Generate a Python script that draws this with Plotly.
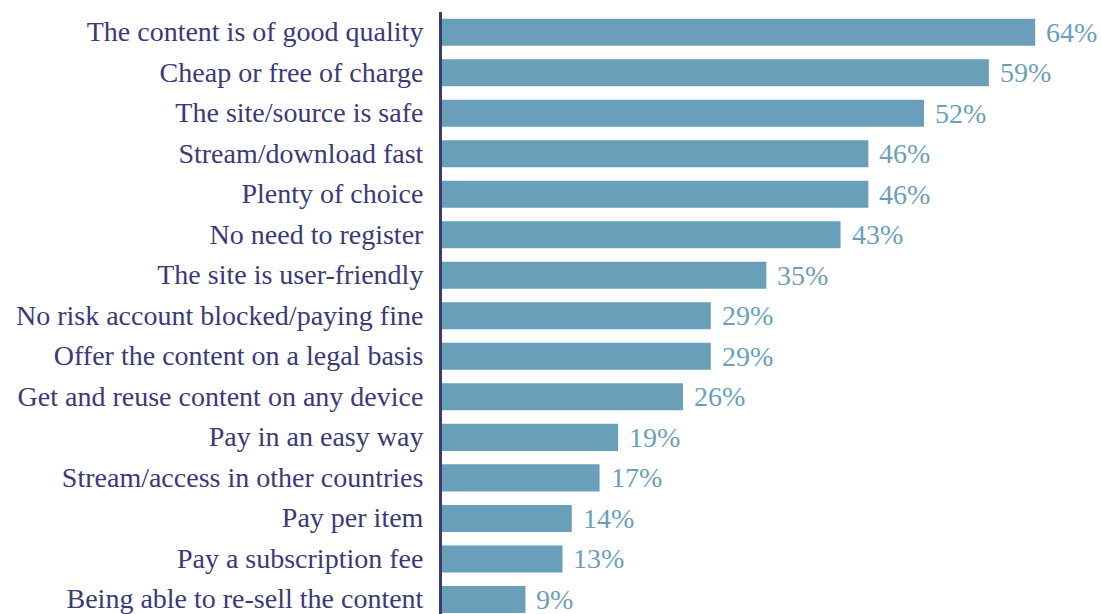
import plotly.graph_objects as go

# Reasons for choosing a source of online content (share of respondents)
categories = [
    "The content is of good quality",
    "Cheap or free of charge",
    "The site/source is safe",
    "Stream/download fast",
    "Plenty of choice",
    "No need to register",
    "The site is user-friendly",
    "No risk account blocked/paying fine",
    "Offer the content on a legal basis",
    "Get and reuse content on any device",
    "Pay in an easy way",
    "Stream/access in other countries",
    "Pay per item",
    "Pay a subscription fee",
    "Being able to re-sell the content",
]
values = [64, 59, 52, 46, 46, 43, 35, 29, 29, 26, 19, 17, 14, 13, 9]

BAR_COLOR = "#6a9fba"
LABEL_COLOR = "#3a3a78"
FONT = "Liberation Serif"

fig = go.Figure(
    go.Bar(
        x=values,
        y=categories,
        orientation="h",
        marker=dict(color=BAR_COLOR, line=dict(width=0)),
        width=0.667,
        hoverinfo="skip",
    )
)

# value labels to the right of each bar
for cat, v in zip(categories, values):
    fig.add_annotation(
        x=v, y=cat, text=f"{v}%", showarrow=False,
        xanchor="left", yanchor="middle", xshift=9, yshift=0,
        font=dict(family=FONT, size=28, color=BAR_COLOR),
    )

fig.update_layout(
    width=1101, height=614,
    margin=dict(l=442, r=0, t=12, b=0),
    paper_bgcolor="white", plot_bgcolor="white",
    showlegend=False,
    xaxis=dict(range=[0, 71.1], visible=False, fixedrange=True),
    yaxis=dict(
        type="category",
        range=[14.36, -0.5],
        showline=True, linecolor=LABEL_COLOR, linewidth=3,
        showgrid=False, zeroline=False, ticks="",
        ticklabelstandoff=10, ticklabelshift=1,
        tickfont=dict(family=FONT, size=28, color=LABEL_COLOR),
    ),
)

fig.write_html("out.html")
